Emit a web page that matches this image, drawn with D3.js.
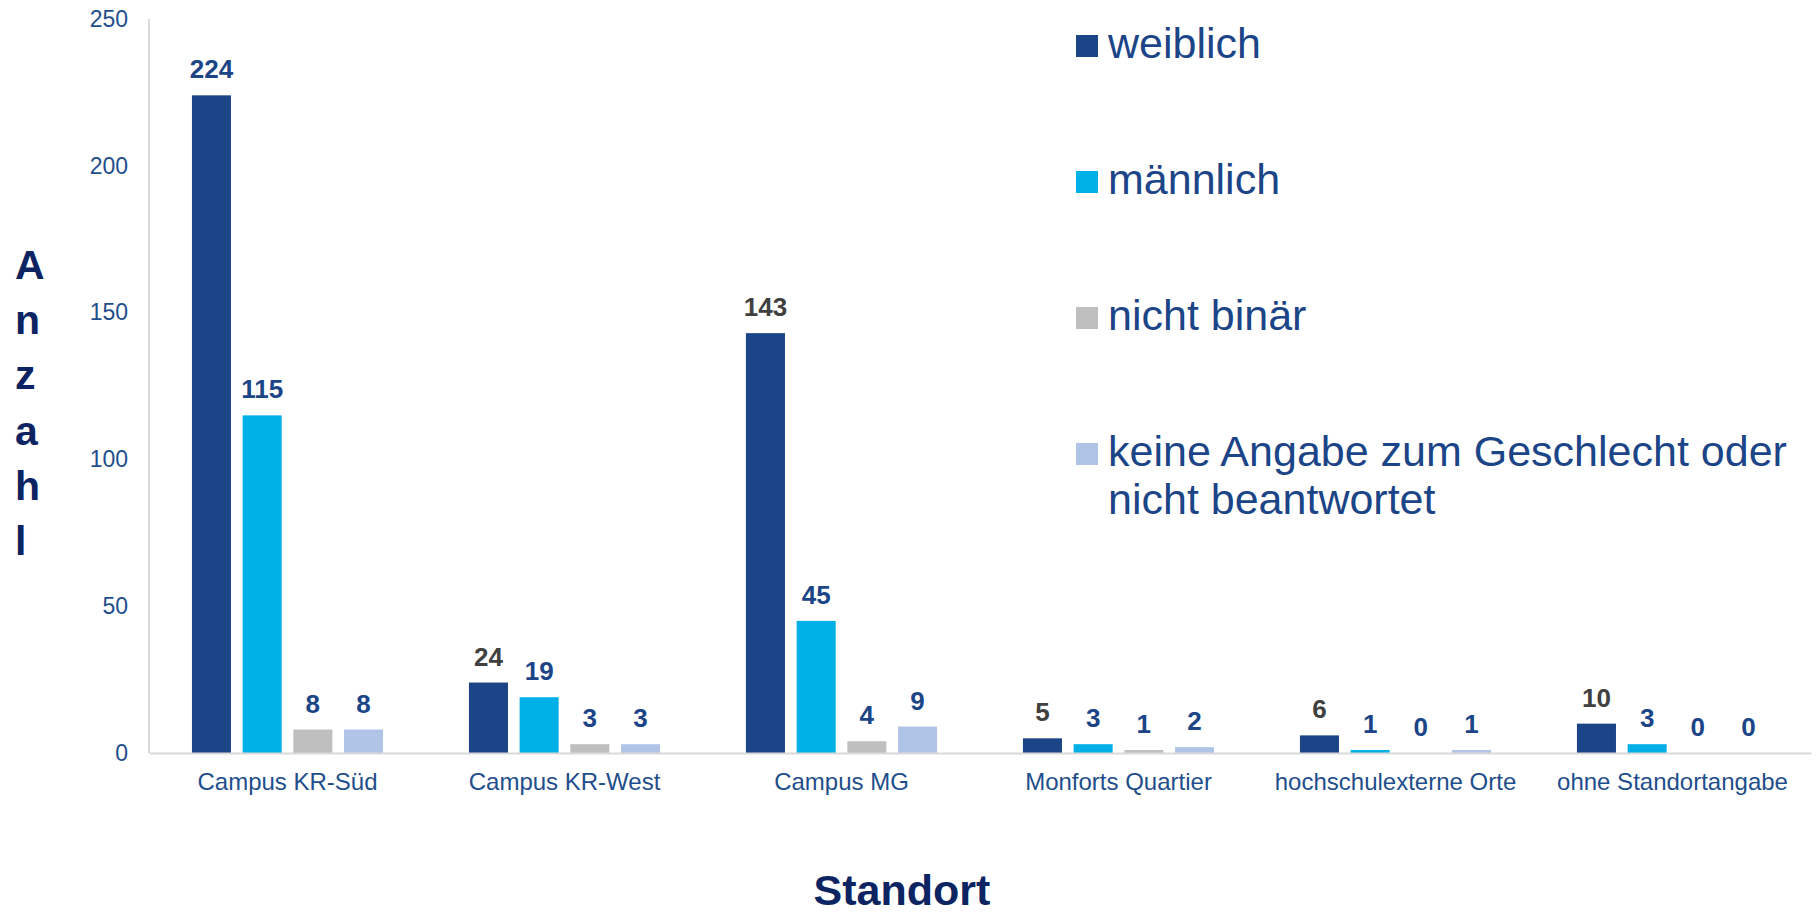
<!DOCTYPE html>
<html>
<head>
<meta charset="utf-8">
<script src="https://cdn.jsdelivr.net/npm/d3@7"></script>
<style>
  body { margin: 0; background: #fff; }
  text { font-family: "Liberation Sans", Arial, sans-serif; }
</style>
</head>
<body>
<svg id="chart"></svg>
<script>
// Daten
var standorte = ["Campus KR-Süd", "Campus KR-West", "Campus MG", "Monforts Quartier", "hochschulexterne Orte", "ohne Standortangabe"];
var serien = ["weiblich", "männlich", "nicht binär", "keine Angabe zum Geschlecht oder nicht beantwortet"];
var weiblich = [224, 24, 143, 5, 6, 10];
var maennlich = [115, 19, 45, 3, 1, 3];
var nichtBinaer = [8, 3, 4, 1, 0, 0];
var keineAngabe = [8, 3, 9, 2, 1, 0];
var yTicks = [0, 50, 100, 150, 200, 250];

var werte = [weiblich, maennlich, nichtBinaer, keineAngabe];
var farben = ["#1B4587", "#00B0E6", "#BFBFBF", "#B0C4E8"];
// Farbe der Beschriftung pro Serie (weiblich: erster Wert blau, Rest grau)
function labelFarbe(s, i) {
    if (s == 0 && i > 0) return "#404040";
    return "#1B4587";
}

var svgWidth = 1816, svgHeight = 915;
var svg = d3.select("#chart")
    .attr("width", svgWidth)
    .attr("height", svgHeight);

var x0 = d3.scaleBand()
    .domain(standorte)
    .range([149, 1811])
    .paddingInner(0.31)
    .paddingOuter(0.155);

var x1 = d3.scaleBand()
    .domain(d3.range(serien.length))
    .range([0, x0.bandwidth()])
    .paddingInner(0.23);

var y = d3.scaleLinear().domain([0, 250]).range([753, 19]);

// y-Achse (nur Beschriftung)
var yAxis = svg.append("g")
    .attr("transform", "translate(149,0)")
    .call(d3.axisLeft(y).tickValues(yTicks).tickSize(0).tickPadding(21));
yAxis.select(".domain").remove();
yAxis.selectAll("text")
    .attr("fill", "#1F4E8C")
    .style("font-size", "23px")
    .style("font-family", "'Liberation Sans', Arial, sans-serif");

svg.append("line")
    .attr("x1", 149).attr("x2", 149)
    .attr("y1", y(250)).attr("y2", y(0))
    .attr("stroke", "#D9D9D9")
    .attr("stroke-width", 2);

// Balken
var gruppen = svg.selectAll("g.gruppe")
    .data(standorte)
    .enter()
    .append("g")
    .attr("class", "gruppe")
    .attr("transform", function(d) { return "translate(" + x0(d) + ",0)"; });

gruppen.each(function(d, i) {
    var g = d3.select(this);
    for (var s = 0; s < serien.length; s++) {
        var v = werte[s][i];
        g.append("rect")
            .attr("x", x1(s))
            .attr("width", x1.bandwidth())
            .attr("y", y(v))
            .attr("height", y(0) - y(v))
            .attr("fill", farben[s]);
        g.append("text")
            .attr("x", x1(s) + x1.bandwidth() / 2)
            .attr("y", y(v) - 17)
            .attr("text-anchor", "middle")
            .attr("fill", labelFarbe(s, i))
            .style("font-size", "26px")
            .style("font-weight", "bold")
            .text(v);
    }
});

// x-Achse
var xAxis = svg.append("g")
    .attr("transform", "translate(0," + y(0) + ")")
    .call(d3.axisBottom(x0).tickSize(0).tickPadding(20));
xAxis.select(".domain")
    .attr("stroke", "#D9D9D9")
    .attr("stroke-width", 2);
xAxis.selectAll("text")
    .attr("fill", "#1F4E8C")
    .style("font-size", "24px")
    .style("font-family", "'Liberation Sans', Arial, sans-serif");

// Achsentitel
svg.append("text")
    .attr("x", 902)
    .attr("y", 905)
    .attr("text-anchor", "middle")
    .attr("fill", "#0C2461")
    .style("font-size", "43px")
    .style("font-weight", "bold")
    .text("Standort");

var anzahl = "Anzahl".split("");
svg.append("g").selectAll("text")
    .data(anzahl)
    .enter()
    .append("text")
    .attr("x", 15)
    .attr("y", function(d, i) { return 279 + i * 55.2; })
    .attr("fill", "#0C2461")
    .style("font-size", "41px")
    .style("font-weight", "bold")
    .text(function(d) { return d; });

// Legende
var legendeZeilen = [["weiblich"], ["männlich"], ["nicht binär"], ["keine Angabe zum Geschlecht oder", "nicht beantwortet"]];
var leg = svg.selectAll("g.legende")
    .data(serien)
    .enter()
    .append("g")
    .attr("class", "legende")
    .attr("transform", function(d, i) { return "translate(1076," + (58 + 136 * i) + ")"; });

leg.append("rect")
    .attr("x", 0)
    .attr("y", -23)
    .attr("width", 22)
    .attr("height", 22)
    .attr("fill", function(d, i) { return farben[i]; });

leg.each(function(d, i) {
    var t = d3.select(this).append("text")
        .attr("fill", "#1B4587")
        .style("font-size", "43px");
    legendeZeilen[i].forEach(function(z, k) {
        t.append("tspan")
            .attr("x", 32)
            .attr("y", k * 48)
            .text(z);
    });
});
</script>
</body>
</html>
